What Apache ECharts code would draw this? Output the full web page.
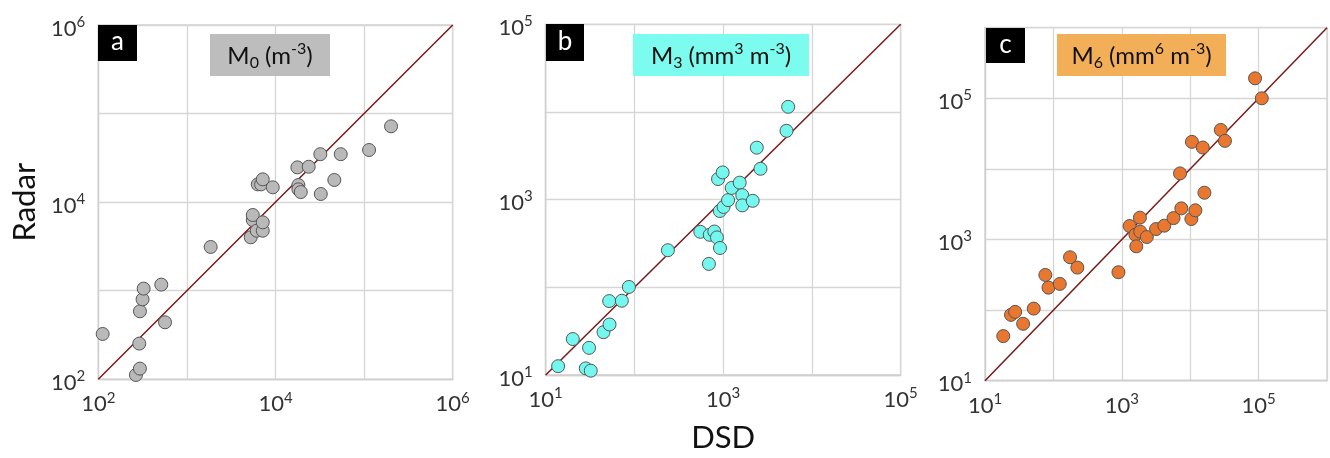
<!DOCTYPE html>
<html><head><meta charset="utf-8">
<script src="https://cdn.jsdelivr.net/npm/echarts@6/dist/echarts.min.js"></script>
<style>html,body{margin:0;padding:0;background:#fff}#c{width:1330px;height:458px}</style>
</head><body><div id="c"></div>
<script>
// Panel a: M0 (m^-3)  [DSD, Radar]
const dataM0 = [[112,325],[266,112],[295,132],[290,253],[295,586],[316,800],[325,1057],[514,1172],[566,440],[1854,3119],[5250,4010],[5540,6280],[5540,7160],[6140,4760],[7180,4760],[7180,5920],[6310,15880],[6870,15880],[7180,18100],[9310,14700],[17660,24700],[23710,25100],[32060,34800],[54500,34800],[18120,15600],[18120,13960],[19280,13000],[32430,12360],[46130,17800],[113800,38800],[201400,71800]];
// Panel b: M3 (mm^3 m^-3)
const dataM3 = [[13.8,12.6],[20.2,25.7],[28.3,11.9],[32.2,11.2],[30.8,20.4],[44.8,30.8],[52.4,37.7],[51.9,69.7],[72.1,70.3],[86.5,101],[238,265],[552,430],[705,397],[794,433],[851,371],[920,281],[690,185],[915,742],[1010,825],[1135,988],[875,1718],[986,2045],[1247,1361],[1535,1563],[1640,1125],[1640,860],[2150,970],[2390,3917],[2630,2249],[5164,6095],[5395,11455]];
// Panel c: M6 (mm^6 m^-3)
const dataM6 = [[18.5,42.8],[24.0,85.7],[27.6,94.4],[36.1,64.0],[51.6,105],[76.2,315],[84.7,208],[124,235],[175,560],[224,400],[893,344],[1300,1552],[1580,1170],[1630,800],[1860,1290],[1840,2040],[2320,1084],[3170,1406],[4180,1570],[5700,2010],[7420,2760],[7100,8630],[10400,1950],[11900,2590],[16140,4592],[10590,24150],[15280,20090],[27990,35650],[32210,24950],[88720,191900],[111400,100000]];
// 1:1 lines (axis extents)
const oneToOneA = [[100,100],[1e6,1e6]];
const oneToOneB = [[10,10],[1e5,1e5]];
const oneToOneC = [[10,10],[1e6,1e6]];
// axis ranges and labelled exponents
const rangeA = [100, 1e6], labelExpA = [2,4,6];
const rangeB = [10, 1e5], labelExpB = [1,3,5];
const rangeC = [10, 1e6], labelExpC = [1,3,5];
const panelLetters = ['a','b','c'];
const panelTitles = [
  '{m|M}{sub|0}{m| (m}{sup|-3}{m|)}',
  '{m|M}{sub|3}{m| (mm}{sup|3}{m| m}{sup|-3}{m|)}',
  '{m|M}{sub|6}{m| (mm}{sup|6}{m| m}{sup|-3}{m|)}'
];
const xName = 'DSD', yName = 'Radar';

const FONT = 'Lato';
const richTick = {
  b: {fontFamily: FONT, fontSize: 22, color: '#333', lineHeight: 28, verticalAlign: 'middle'},
  s: {fontFamily: FONT, fontSize: 15, color: '#333', lineHeight: 16, verticalAlign: 'top'}
};
function fmt(exps){
  return function(v){
    const e = Math.round(Math.log10(v));
    return exps.indexOf(e) >= 0 ? '{b|10}{s|' + e + '}' : '';
  };
}
const grids = [
  {left: 98.3, top: 25, width: 354.4, height: 354.3},
  {left: 545.7, top: 24.3, width: 355, height: 354.7},
  {left: 985, top: 27.7, width: 354, height: 353}
];
grids.forEach(g => { g.show = true; g.borderColor = '#cfcfcf'; g.borderWidth = 1.3; g.backgroundColor = 'transparent'; });

const ranges = [rangeA, rangeB, rangeC];
const exps = [labelExpA, labelExpB, labelExpC];
function axisCommon(i, isX){
  return {
    type: 'log', logBase: 10, gridIndex: i, min: ranges[i][0], max: ranges[i][1],
    axisLine: {show: true, lineStyle: {color: '#cfcfcf', width: 1.3}},
    axisTick: {show: false},
    splitLine: {show: true, lineStyle: {color: '#d6d6d6', width: 1.3}},
    axisLabel: {formatter: fmt(exps[i]), rich: richTick, margin: isX ? 11 : 13,
      padding: isX ? 0 : [7, 0, 0, 0], showMinLabel: true, showMaxLabel: true, hideOverlap: false}
  };
}
const xAxes = [0,1,2].map(i => axisCommon(i, true));
const yAxes = [0,1,2].map(i => axisCommon(i, false));
xAxes[1].name = xName; xAxes[1].nameLocation = 'middle'; xAxes[1].nameGap = 47;
xAxes[1].nameTextStyle = {fontFamily: FONT, fontSize: 31, color: '#111'};
yAxes[0].name = yName; yAxes[0].nameLocation = 'middle'; yAxes[0].nameGap = 58;
yAxes[0].nameTextStyle = {fontFamily: FONT, fontSize: 31, color: '#111'};

const fills = ['#b9b9b9', '#74f7ef', '#e9772f'];
const datas = [dataM0, dataM3, dataM6];
const lines = [oneToOneA, oneToOneB, oneToOneC];
const series = [];
[0,1,2].forEach(i => {
  series.push({type: 'line', xAxisIndex: i, yAxisIndex: i, data: lines[i], symbol: 'none', silent: true,
    lineStyle: {color: '#7a1818', width: 1.5}, z: 2, animation: false});
  series.push({type: 'scatter', xAxisIndex: i, yAxisIndex: i, data: datas[i], symbolSize: 13,
    itemStyle: {color: fills[i], borderColor: '#555', borderWidth: 1, opacity: 1}, z: 3, animation: false});
});

const titleBoxes = [
  {x: 210, y: 34, w: 120, h: 42, color: '#bdbdbd'},
  {x: 633, y: 34, w: 176, h: 42, color: '#7cfcee'},
  {x: 1057, y: 34, w: 169, h: 42, color: '#f3ae58'}
];
const letterBoxes = [
  {x: 98, y: 25, w: 39, h: 36},
  {x: 546, y: 24, w: 38, h: 37},
  {x: 986, y: 28, w: 39, h: 35}
];
const richTitle = {
  m: {fontFamily: FONT, fontSize: 24, fill: '#111', lineHeight: 30, verticalAlign: 'middle'},
  sub: {fontFamily: FONT, fontSize: 16, fill: '#111', lineHeight: 16, verticalAlign: 'bottom'},
  sup: {fontFamily: FONT, fontSize: 16, fill: '#111', lineHeight: 16, verticalAlign: 'top'}
};
const graphics = [];
[0,1,2].forEach(i => {
  const t = titleBoxes[i], l = letterBoxes[i];
  graphics.push({type: 'rect', shape: {x: t.x, y: t.y, width: t.w, height: t.h}, style: {fill: t.color}, z: 10});
  graphics.push({type: 'text', x: t.x + t.w/2, y: t.y + t.h/2 + 1, z: 11,
    style: {text: panelTitles[i], rich: richTitle, align: 'center', verticalAlign: 'middle'}});
  graphics.push({type: 'rect', shape: {x: l.x, y: l.y, width: l.w, height: l.h}, style: {fill: '#000'}, z: 10});
  graphics.push({type: 'text', x: l.x + l.w/2, y: l.y + l.h/2 - 1, z: 11,
    style: {text: panelLetters[i], fill: '#fff', fontFamily: FONT, fontSize: 26, align: 'center', verticalAlign: 'middle'}});
});

const chart = echarts.init(document.getElementById('c'), null, {renderer: 'canvas'});
chart.setOption({
  animation: false,
  textStyle: {fontFamily: FONT},
  grid: grids, xAxis: xAxes, yAxis: yAxes, series: series, graphic: graphics
});
</script></body></html>
